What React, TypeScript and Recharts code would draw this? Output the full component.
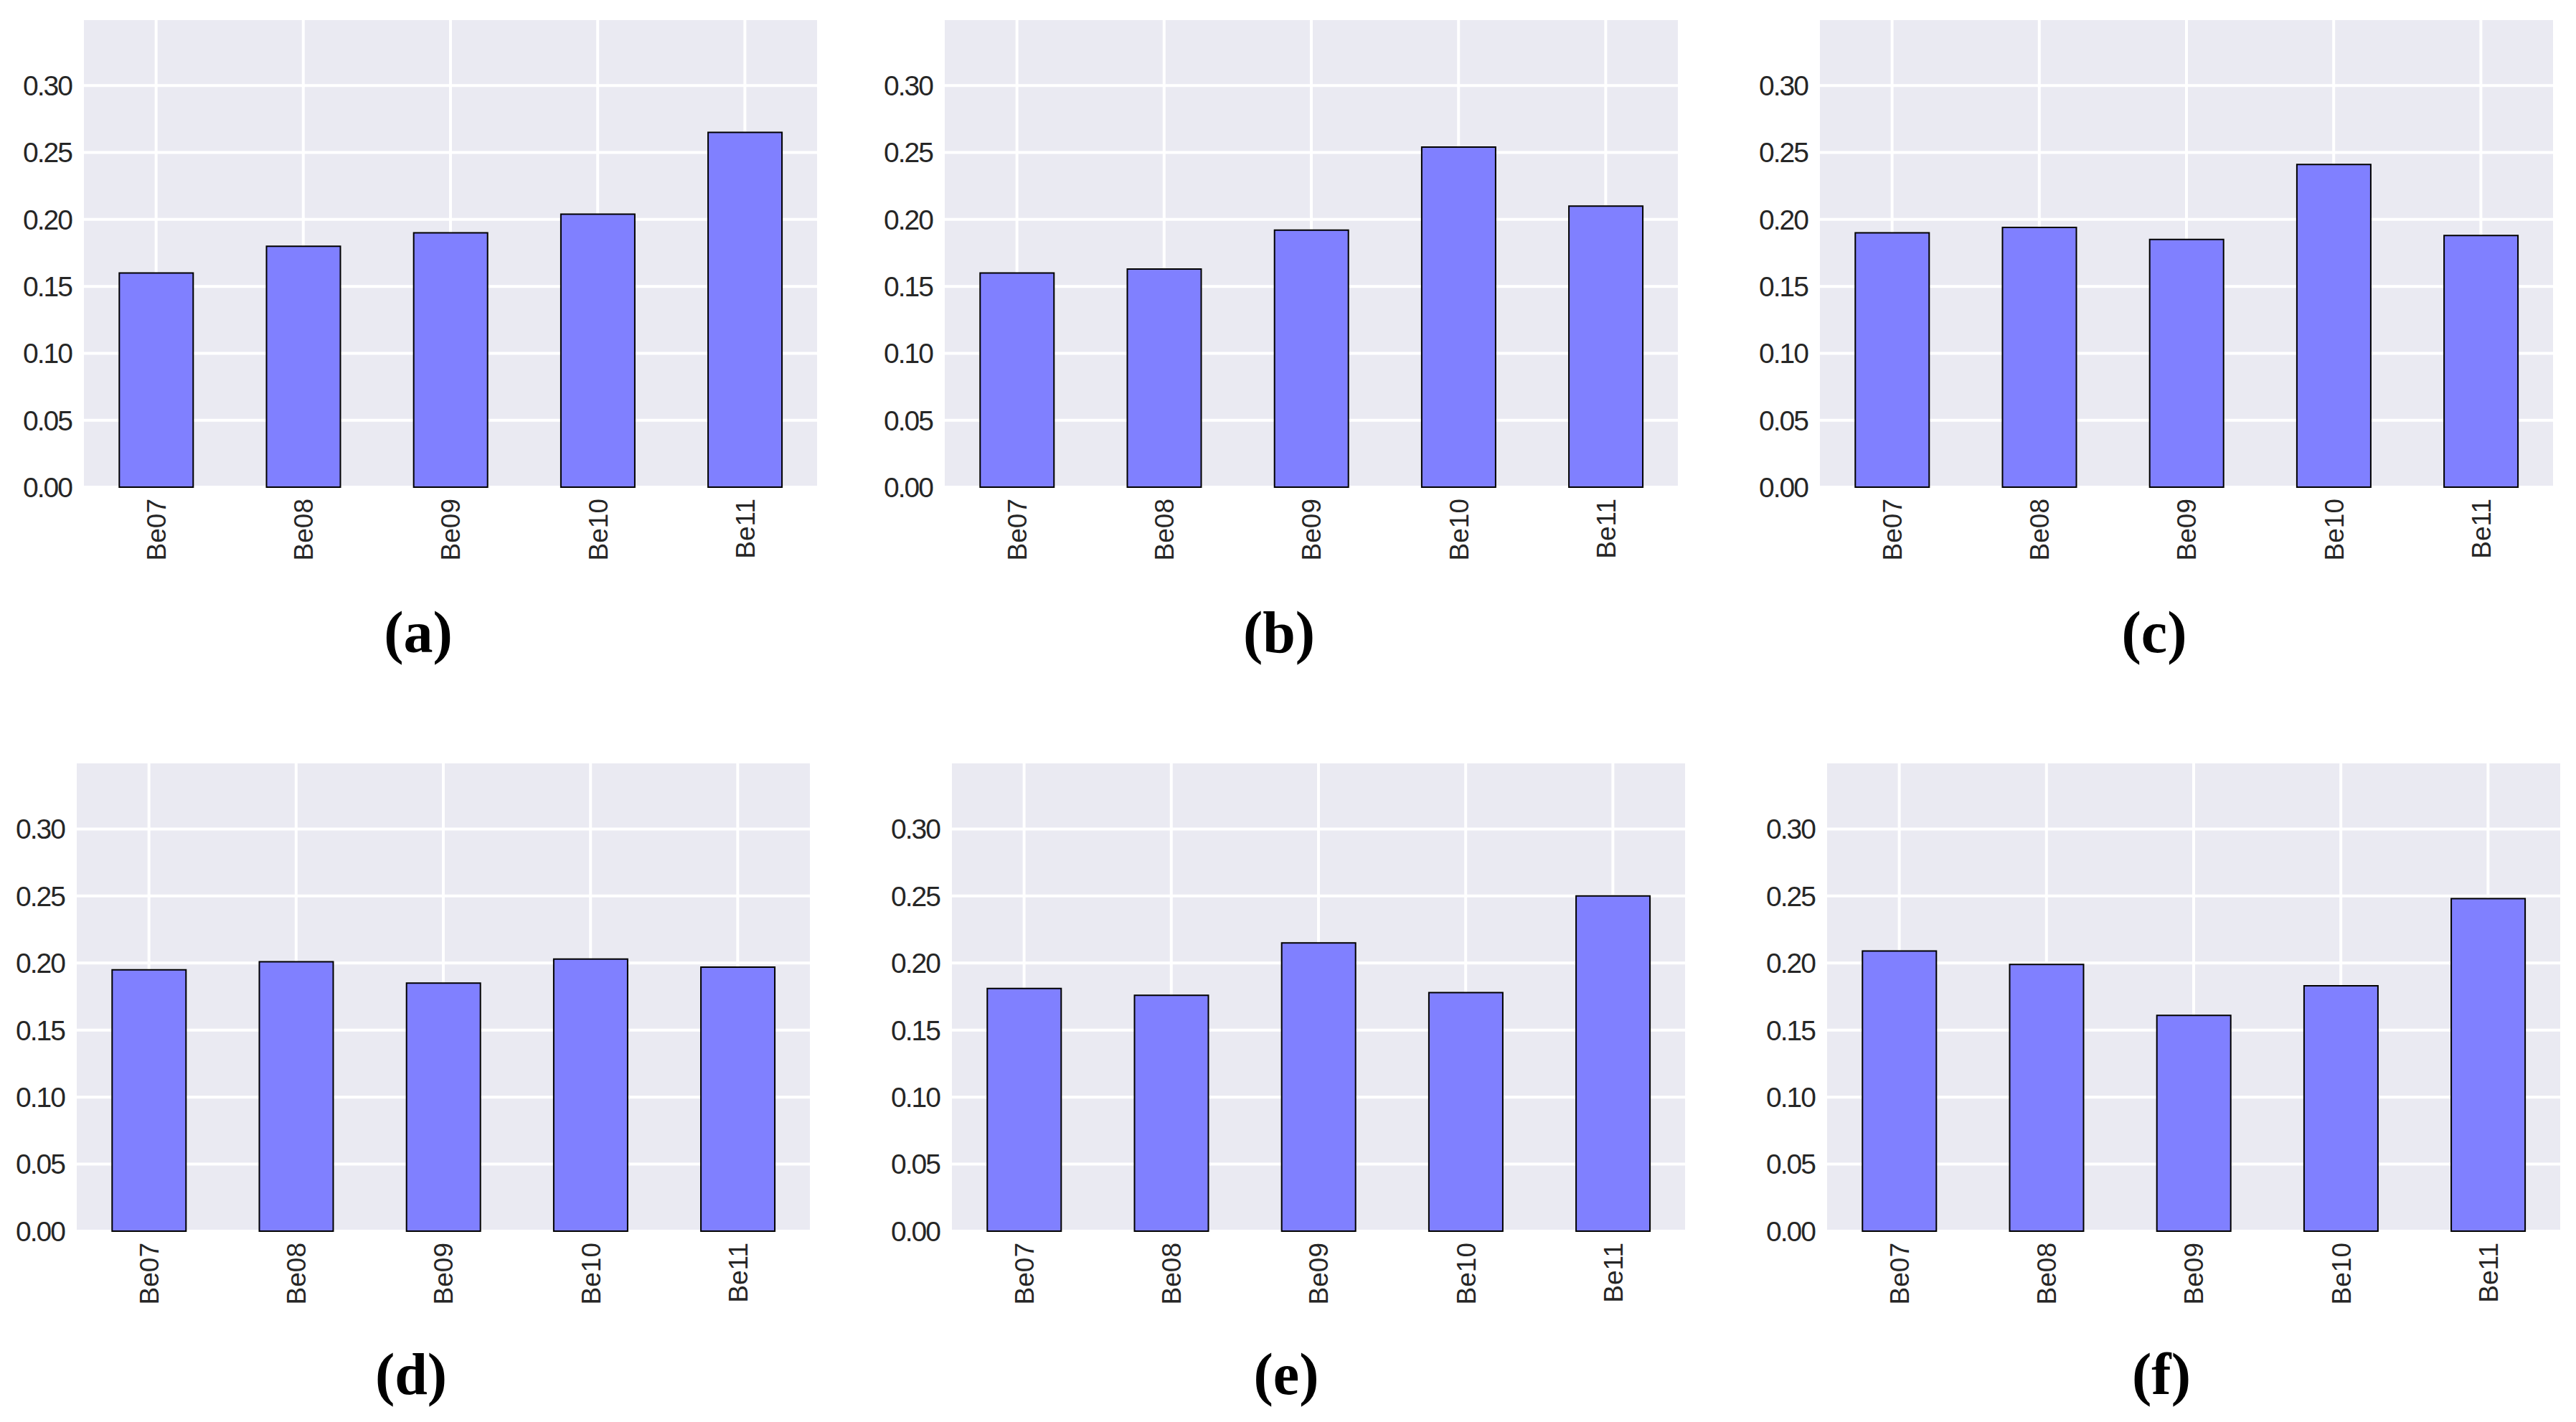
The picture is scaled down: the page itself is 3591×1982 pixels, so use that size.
// Six small bar panels (a)–(f): share of each Be class, seaborn "darkgrid" look.
import { BarChart, Bar, XAxis, YAxis, CartesianGrid } from 'recharts';

const CATEGORIES = ['Be07', 'Be08', 'Be09', 'Be10', 'Be11'];

const VALUES_A = [0.160, 0.180, 0.190, 0.204, 0.265];
const VALUES_B = [0.160, 0.163, 0.192, 0.254, 0.210];
const VALUES_C = [0.190, 0.194, 0.185, 0.241, 0.188];
const VALUES_D = [0.195, 0.201, 0.185, 0.203, 0.197];
const VALUES_E = [0.181, 0.176, 0.215, 0.178, 0.250];
const VALUES_F = [0.209, 0.199, 0.161, 0.183, 0.248];

const Y_TICKS = [0, 0.05, 0.1, 0.15, 0.2, 0.25, 0.3];
const Y_DOMAIN = [0, 0.35];

const PANEL_LABELS = ['(a)', '(b)', '(c)', '(d)', '(e)', '(f)'];
const PANEL_VALUES = [VALUES_A, VALUES_B, VALUES_C, VALUES_D, VALUES_E, VALUES_F];

// plot-area boxes in page pixels: [left, top, right, bottom]
const PLOT_BOXES = [
  [115, 26, 1141, 679],
  [1315, 26, 2341, 679],
  [2535, 26, 3561, 679],
  [105, 1062, 1131, 1716],
  [1325, 1062, 2351, 1716],
  [2545, 1062, 3571, 1716],
];
const LABEL_BASELINES = [909, 909, 909, 1943, 1943, 1943];

const Y_AXIS_W = 130;
const X_AXIS_H = 140;
const PAD = 10;

const TEXT_COLOR = '#262626';
const SANS = '"Liberation Sans", Arial, sans-serif';

function XTick(props: any) {
  const { x, y, payload } = props;
  return (
    <g transform={`translate(${x},${y})`}>
      <text
        transform="rotate(-90)"
        textAnchor="end"
        dy="0.36em"
        fontFamily={SANS}
        fontSize={37}
        fill={TEXT_COLOR}
      >
        {payload.value}
      </text>
    </g>
  );
}

function Panel({ values, box }: { values: number[]; box: number[] }) {
  const [left, top, right, bottom] = box;
  const plotW = right - left;
  const plotH = bottom - top;
  const data = CATEGORIES.map((c, i) => ({ name: c, v: values[i] }));

  return (
    <div
      style={{
        position: 'absolute',
        left: left - Y_AXIS_W,
        top: top - PAD,
      }}
    >
      <BarChart
        width={Y_AXIS_W + plotW + PAD}
        height={PAD + plotH + X_AXIS_H}
        data={data}
        margin={{ top: PAD, right: PAD, bottom: 0, left: 0 }}
        barCategoryGap="25%"
      >
        <CartesianGrid
          fill="#EAEAF2"
          fillOpacity={1}
          stroke="#ffffff"
          strokeWidth={4}
        />
        <XAxis
          dataKey="name"
          height={X_AXIS_H}
          axisLine={false}
          tickLine={false}
          tickSize={0}
          tickMargin={16}
          interval={0}
          tick={<XTick />}
        />
        <YAxis
          type="number"
          domain={Y_DOMAIN}
          ticks={Y_TICKS}
          width={Y_AXIS_W}
          axisLine={false}
          tickLine={false}
          tickSize={0}
          tickMargin={15}
          tickFormatter={(v: number) => v.toFixed(2)}
          tick={{ fill: TEXT_COLOR, fontSize: 39, fontFamily: SANS, letterSpacing: -2 }}
        />
        <Bar
          dataKey="v"
          fill="#8080ff"
          stroke="#000000"
          strokeWidth={2}
          isAnimationActive={false}
        />
      </BarChart>
    </div>
  );
}

export default function App() {
  return (
    <div
      style={{
        position: 'absolute',
        left: 0,
        top: 0,
        width: 3591,
        height: 1982,
        background: '#ffffff',
        overflow: 'hidden',
      }}
    >
      {PANEL_VALUES.map((vals, i) => (
        <Panel key={PANEL_LABELS[i]} values={vals} box={PLOT_BOXES[i]} />
      ))}
      <svg
        width={3591}
        height={1982}
        style={{ position: 'absolute', left: 0, top: 0, pointerEvents: 'none' }}
      >
        {PANEL_LABELS.map((lab, i) => {
          const [l, , r] = PLOT_BOXES[i];
          return (
            <text
              key={lab}
              x={(l + r) / 2 - 45}
              y={LABEL_BASELINES[i]}
              textAnchor="middle"
              fontFamily='"Liberation Serif", "Times New Roman", serif'
              fontWeight="bold"
              fontSize={82}
              fill="#000000"
            >
              {lab}
            </text>
          );
        })}
      </svg>
    </div>
  );
}
